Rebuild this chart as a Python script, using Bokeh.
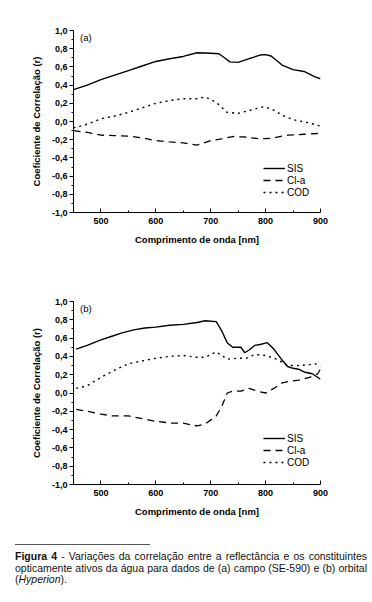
from bokeh.plotting import figure
from bokeh.models import (Legend, LegendItem, Label, CustomJSTickFormatter,
                          FixedTicker, Div, Range1d)
from bokeh.layouts import column
from bokeh.embed import file_html
from bokeh.resources import INLINE

# ---------------- data ----------------
a_sis_x = [450, 475, 500, 525, 550, 575, 600, 625, 650, 675, 700, 715, 725, 735, 750, 770, 790, 800, 810, 820, 830, 850, 870, 890, 900]
a_sis_y = [0.35, 0.40, 0.46, 0.51, 0.56, 0.61, 0.66, 0.69, 0.715, 0.755, 0.75, 0.745, 0.70, 0.655, 0.65, 0.69, 0.73, 0.735, 0.72, 0.67, 0.62, 0.57, 0.55, 0.49, 0.47]

a_cla_x = [450, 475, 500, 525, 550, 575, 600, 625, 650, 675, 700, 720, 740, 760, 790, 810, 840, 870, 900]
a_cla_y = [-0.10, -0.12, -0.15, -0.155, -0.16, -0.18, -0.21, -0.225, -0.235, -0.26, -0.21, -0.19, -0.165, -0.17, -0.19, -0.185, -0.15, -0.14, -0.13]

a_cod_x = [450, 475, 500, 525, 550, 575, 600, 625, 650, 675, 690, 710, 730, 750, 770, 795, 810, 830, 850, 875, 900]
a_cod_y = [-0.07, -0.03, 0.03, 0.06, 0.10, 0.15, 0.20, 0.23, 0.25, 0.25, 0.27, 0.21, 0.10, 0.09, 0.12, 0.16, 0.14, 0.07, 0.02, -0.01, -0.05]

b_sis_x = [455, 475, 500, 520, 540, 560, 580, 600, 625, 650, 675, 690, 710, 720, 730, 740, 750, 755, 762, 770, 780, 790, 803, 815, 830, 840, 850, 860, 870, 885, 900]
b_sis_y = [0.48, 0.52, 0.58, 0.62, 0.66, 0.69, 0.71, 0.72, 0.74, 0.75, 0.77, 0.79, 0.78, 0.68, 0.55, 0.50, 0.50, 0.50, 0.44, 0.47, 0.52, 0.53, 0.55, 0.48, 0.36, 0.29, 0.27, 0.26, 0.23, 0.21, 0.15]

b_cla_x = [455, 475, 500, 520, 550, 575, 600, 630, 650, 675, 690, 710, 720, 730, 740, 755, 770, 785, 800, 815, 830, 845, 860, 880, 895, 900]
b_cla_y = [-0.18, -0.20, -0.23, -0.25, -0.25, -0.28, -0.31, -0.33, -0.33, -0.36, -0.34, -0.25, -0.15, 0.00, 0.02, 0.02, 0.05, 0.02, 0.00, 0.05, 0.11, 0.13, 0.14, 0.17, 0.21, 0.26]

b_cod_x = [455, 475, 500, 525, 550, 575, 600, 625, 650, 675, 690, 710, 730, 750, 765, 780, 800, 820, 840, 860, 880, 890, 900]
b_cod_y = [0.05, 0.08, 0.17, 0.25, 0.32, 0.35, 0.38, 0.40, 0.41, 0.39, 0.39, 0.45, 0.37, 0.38, 0.38, 0.42, 0.41, 0.37, 0.30, 0.30, 0.31, 0.32, 0.29]

series_labels = ["SIS", "Cl-a", "COD"]
x_ticks = [500, 600, 700, 800, 900]
y_ticks = [-1.0, -0.8, -0.6, -0.4, -0.2, 0.0, 0.2, 0.4, 0.6, 0.8, 1.0]
panel_tags = ["(a)", "(b)"]

FONT = "Liberation Sans"
fmt = CustomJSTickFormatter(code="return tick.toFixed(1).replace('.', ',').replace('-0,0','0,0');")


def make_panel(tag, sx, sy, cx, cy, dx, dy, height, top, bottom, leg_y):
    p = figure(width=356, height=height, output_backend="svg", toolbar_location=None,
               x_range=Range1d(450, 900), y_range=Range1d(-1.0, 1.0),
               min_border_left=73, min_border_right=36,
               min_border_top=top, min_border_bottom=bottom)
    p.outline_line_color = None
    p.xgrid.visible = False
    p.ygrid.visible = False
    p.background_fill_color = "white"
    p.border_fill_color = "white"

    r1 = p.line(sx, sy, line_color="black", line_width=1.4)
    r2 = p.line(cx, cy, line_color="black", line_width=1.3, line_dash="7 5")
    r3 = p.line(dx, dy, line_color="black", line_width=1.4, line_dash="2 4")

    xa = p.xaxis[0]
    xa.ticker = FixedTicker(ticks=x_ticks, minor_ticks=[450, 550, 650, 750, 850])
    xa.major_tick_in = 4
    xa.major_tick_out = 0
    xa.minor_tick_in = 2
    xa.minor_tick_out = 0
    xa.axis_label = "Comprimento de onda [nm]"
    xa.axis_label_text_font = FONT
    xa.axis_label_text_font_style = "bold"
    xa.axis_label_text_font_size = "9.5px"
    xa.axis_label_standoff = 7
    xa.major_label_text_font = FONT
    xa.major_label_text_font_style = "bold"
    xa.major_label_text_font_size = "9px"
    xa.major_label_standoff = 5

    ya = p.yaxis[0]
    ya.ticker = FixedTicker(ticks=y_ticks,
                            minor_ticks=[-0.9, -0.7, -0.5, -0.3, -0.1, 0.1, 0.3, 0.5, 0.7, 0.9])
    ya.formatter = fmt
    ya.major_tick_in = 0
    ya.major_tick_out = 4
    ya.minor_tick_in = 0
    ya.minor_tick_out = 2
    ya.axis_label = "Coeficiente de Correlação (r)"
    ya.axis_label_text_font = FONT
    ya.axis_label_text_font_style = "bold"
    ya.axis_label_text_font_size = "9.5px"
    ya.axis_label_standoff = 7
    ya.major_label_text_font = FONT
    ya.major_label_text_font_style = "bold"
    ya.major_label_text_font_size = "9px"
    ya.major_label_standoff = 2

    for ax in (xa, ya):
        ax.axis_line_color = "black"
        ax.major_tick_line_color = "black"
        ax.minor_tick_line_color = "black"
        ax.major_label_text_color = "black"
        ax.axis_label_text_color = "black"

    p.add_layout(Label(x=462, y=0.985, text=tag, text_baseline="top",
                       text_font=FONT, text_font_size="9.5px", text_color="black"))

    leg = Legend(items=[LegendItem(label=series_labels[0], renderers=[r1]),
                        LegendItem(label=series_labels[1], renderers=[r2]),
                        LegendItem(label=series_labels[2], renderers=[r3])],
                 location=(190, leg_y), orientation="vertical",
                 border_line_color=None, background_fill_alpha=0,
                 padding=0, margin=0, spacing=0,
                 glyph_width=22, glyph_height=12, label_height=12,
                 label_standoff=2,
                 label_text_font=FONT, label_text_font_size="10px",
                 label_text_color="black")
    p.add_layout(leg)
    return p


p1 = make_panel(panel_tags[0], a_sis_x, a_sis_y, a_cla_x, a_cla_y, a_cod_x, a_cod_y,
                278, 30, 66, 14)
p2 = make_panel(panel_tags[1], b_sis_x, b_sis_y, b_cla_x, b_cla_y, b_cod_x, b_cod_y,
                250, 23, 44, 16)

line_style = ("margin-left:10px;width:352px;text-align:justify;text-align-last:justify;"
              "font-family:'Liberation Sans Narrow','Arial Narrow','Liberation Sans';"
              "font-size:10.5px;line-height:11.7px;height:11.7px;color:#111;white-space:nowrap;")
last_style = line_style.replace("text-align-last:justify;", "text-align-last:left;")

caption = Div(width=364, text=(
    '<div style="margin-top:11px;margin-left:10px;width:135px;border-top:1.6px solid #555;"></div>'
    '<div style="margin-top:6px;">'
    f'<div style="{line_style}"><b>Figura 4</b><span> - Variações da correlação entre a '
    'reflectância e os constituintes</span></div>'
    f'<div style="{line_style}">opticamente ativos da água para dados de (a) campo '
    '(SE-590) e (b) orbital</div>'
    f'<div style="{last_style}"><span>(</span><i>Hyperion</i><span>).</span></div>'
    '</div>'))

layout = column(p1, p2, caption, spacing=0)

open("out.html", "w").write(file_html(layout, INLINE))
